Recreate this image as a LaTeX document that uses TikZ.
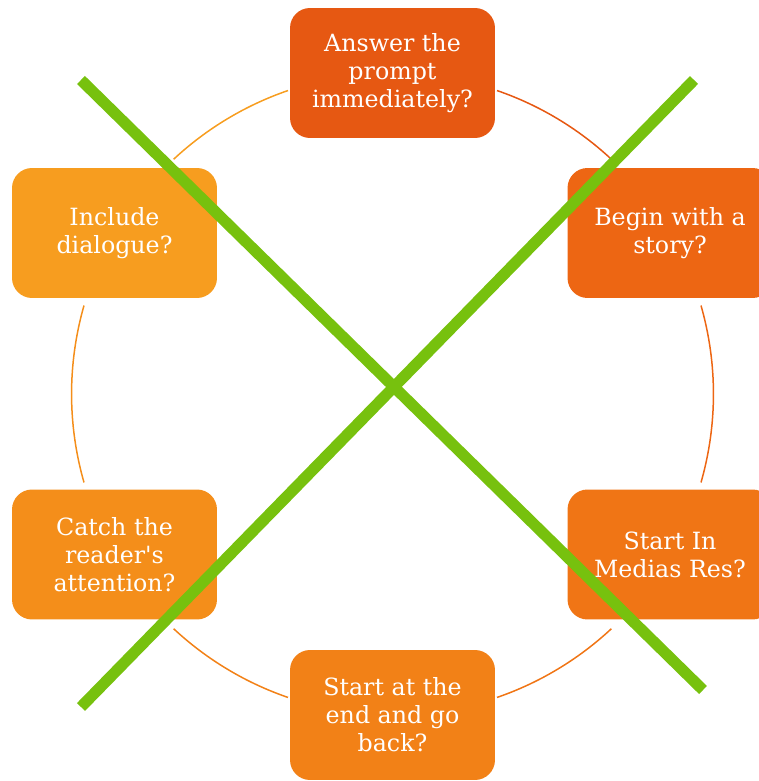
\documentclass[tikz,border=0pt]{standalone}
\usepackage{fontspec}
\setmainfont{DejaVu Serif}
\usepackage{tikz}
\definecolor{boxA}{HTML}{E65812}
\definecolor{boxB}{HTML}{ED6613}
\definecolor{boxC}{HTML}{F07515}
\definecolor{boxD}{HTML}{F28117}
\definecolor{boxE}{HTML}{F48E1A}
\definecolor{boxF}{HTML}{F79D1F}
\definecolor{crossgreen}{HTML}{77C10E}

\begin{document}
\begin{tikzpicture}[x=0.02cm,y=0.02cm,
	qbox/.style={rounded corners=0.4cm, minimum width=4.1cm, minimum height=2.6cm, inner sep=0pt, text=white, align=center, font=\fontsize{13.5}{15.9}\selectfont},
	ring/.style={line width=0.85pt},
	cross/.style={draw=crossgreen, line width=6.4pt}]
	\useasboundingbox (0,0) rectangle (759,781);
	\clip (0,0) rectangle (759,781);

	\coordinate (hub) at (392.5,387);

	\draw[ring, draw=boxA] ([shift={(71:6.42cm)}]hub) arc[start angle=71, end angle=47, radius=6.42cm];
	\draw[ring, draw=boxB] ([shift={(16:6.42cm)}]hub) arc[start angle=16, end angle=-16, radius=6.42cm];
	\draw[ring, draw=boxC] ([shift={(-47:6.42cm)}]hub) arc[start angle=-47, end angle=-71, radius=6.42cm];
	\draw[ring, draw=boxD] ([shift={(-109:6.42cm)}]hub) arc[start angle=-109, end angle=-133, radius=6.42cm];
	\draw[ring, draw=boxE] ([shift={(-164:6.42cm)}]hub) arc[start angle=-164, end angle=-196, radius=6.42cm];
	\draw[ring, draw=boxF] ([shift={(133:6.42cm)}]hub) arc[start angle=133, end angle=109, radius=6.42cm];

	\node[qbox, fill=boxA] (prompt) at (392.5,708) {Answer the\\prompt\\immediately?};
	\node[qbox, fill=boxB] (story) at (670,548) {Begin with a\\story?};
	\node[qbox, fill=boxC] (medias) at (670,226.5) {Start In\\Medias Res?};
	\node[qbox, fill=boxD] (end) at (392.5,66) {Start at the\\end and go\\back?};
	\node[qbox, fill=boxE] (catch) at (114.5,226.5) {Catch the\\reader\textquotesingle s\\attention?};
	\node[qbox, fill=boxF] (dialogue) at (114.5,548) {Include\\dialogue?};

	\coordinate (crossNW) at (81,701);
	\coordinate (crossSE) at (703,91);
	\coordinate (crossNE) at (694,701);
	\coordinate (crossSW) at (81,74);

	\draw[cross] (crossNW) -- (crossSE);
	\draw[cross] (crossNE) -- (crossSW);

\end{tikzpicture}
\end{document}
